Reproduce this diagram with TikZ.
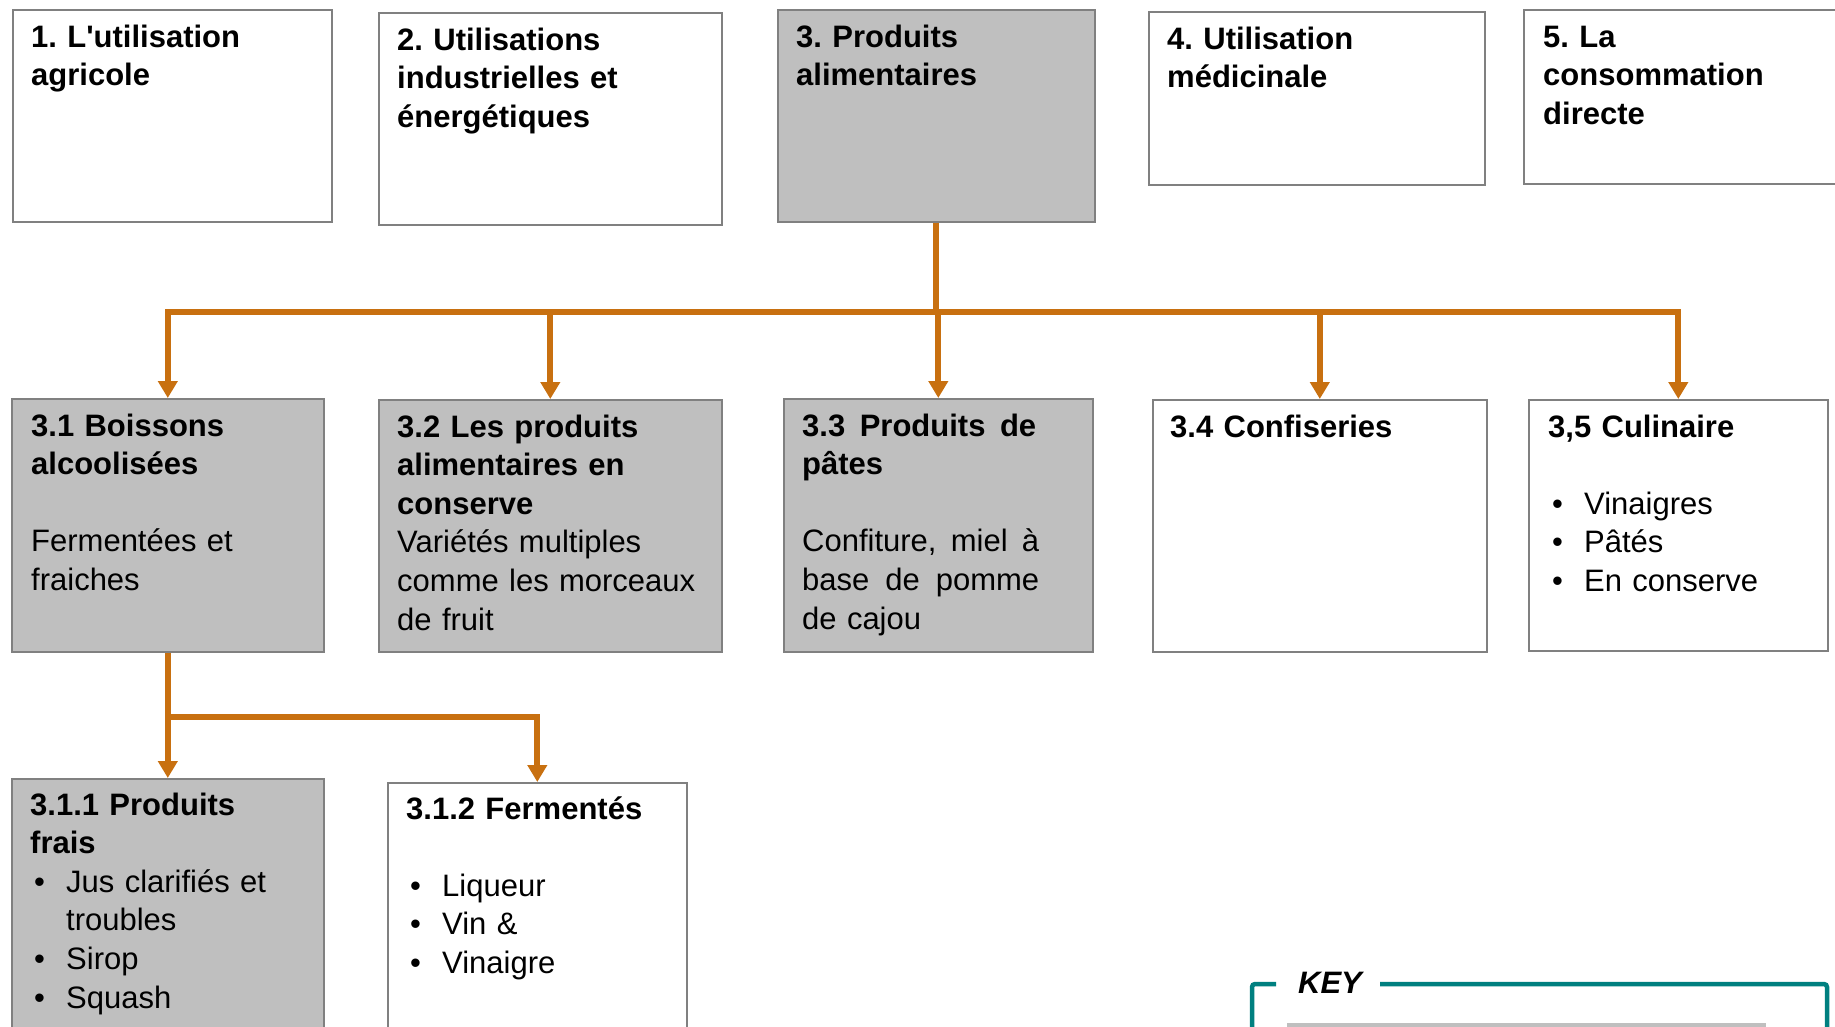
\documentclass[tikz,border=0pt]{standalone}
\usepackage{fontspec}
\setmainfont{Liberation Sans}
\usetikzlibrary{arrows.meta}
\definecolor{boxgrey}{RGB}{191,191,191}
\definecolor{edgegrey}{RGB}{128,128,128}
\definecolor{arrorange}{RGB}{200,112,16}
\definecolor{keyteal}{RGB}{0,128,128}
\newcommand{\bul}{\makebox[36pt][l]{\hspace{4pt}•}}
\newcommand{\jline}[2]{\makebox[#1][l]{#2}}
\frenchspacing
\begin{document}
\begin{tikzpicture}[x=1pt,y=-1pt,
  box/.style={draw=edgegrey, line width=1.6pt, rectangle, inner sep=0pt, anchor=north west},
  gbox/.style={box, fill=boxgrey},
  wbox/.style={box, fill=white},
  txt/.style={anchor=base west, inner sep=0pt, text width=330pt, align=left,
              font=\fontsize{31}{38.6}\selectfont\frenchspacing},
  conn/.style={draw=arrorange, line width=6pt},
  arr/.style={conn, -{Triangle[width=19pt,length=17pt]}},
  keyframe/.style={draw=keyteal, line width=4.5pt, rounded corners=3pt},
]
\useasboundingbox (0,0) rectangle (1835,1026);
\clip (0,0) rectangle (1835,1026);

% top row
\node[wbox, minimum width=319pt, minimum height=212pt] (b1) at (12,9) {};
\node[wbox, minimum width=343pt, minimum height=212pt] (b2) at (378,12) {};
\node[gbox, minimum width=317pt, minimum height=212pt] (b3) at (777,9) {};
\node[wbox, minimum width=336pt, minimum height=173pt] (b4) at (1148,11) {};
\node[wbox, minimum width=340pt, minimum height=174pt] (b5) at (1523,9) {};

% second row
\node[gbox, minimum width=312pt, minimum height=253pt] (b31) at (11,398) {};
\node[gbox, minimum width=343pt, minimum height=252pt] (b32) at (378,399) {};
\node[gbox, minimum width=309pt, minimum height=253pt] (b33) at (783,398) {};
\node[wbox, minimum width=334pt, minimum height=252pt] (b34) at (1152,399) {};
\node[wbox, minimum width=299pt, minimum height=251pt] (b35) at (1528,399) {};

% third row
\node[gbox, minimum width=312pt, minimum height=300pt] (b311) at (11,778) {};
\node[wbox, minimum width=299pt, minimum height=300pt] (b312) at (387,782) {};

% texts
\node[txt] (t1) at ([shift={(19,38)}]b1.north west)
  {\textbf{1. L\textquotesingle utilisation}\\\textbf{agricole}};
\node[txt] (t2) at ([shift={(19,38)}]b2.north west)
  {\textbf{2. Utilisations}\\\textbf{industrielles et}\\\textbf{énergétiques}};
\node[txt] (t3) at ([shift={(19,38)}]b3.north west)
  {\textbf{3. Produits}\\\textbf{alimentaires}};
\node[txt] (t4) at ([shift={(19,38)}]b4.north west)
  {\textbf{4. Utilisation}\\\textbf{médicinale}};
\node[txt] (t5) at ([shift={(20,38)}]b5.north west)
  {\textbf{5. La}\\\textbf{consommation}\\\textbf{directe}};

\node[txt] (t31) at ([shift={(20,38)}]b31.north west)
  {\textbf{3.1 Boissons}\\\textbf{alcoolisées}\\[38.6pt]Fermentées et\\fraiches};
\node[txt] (t32) at ([shift={(19,38)}]b32.north west)
  {\textbf{3.2 Les produits}\\\textbf{alimentaires en}\\\textbf{conserve}\\Variétés multiples\\comme les morceaux\\de fruit};
\node[txt] (t33) at ([shift={(19,38)}]b33.north west)
  {\jline{234pt}{\textbf{3.3}\hfill\textbf{Produits}\hfill\textbf{de}}\\\textbf{pâtes}\\[38.6pt]\jline{237pt}{Confiture,\hfill miel\hfill à}\\\jline{237pt}{base\hfill de\hfill pomme}\\de cajou};
\node[txt] (t34) at ([shift={(18,38)}]b34.north west)
  {\textbf{3.4 Confiseries}};
\node[txt] (t35) at ([shift={(20,38)}]b35.north west)
  {\textbf{3,5 Culinaire}\\[38.6pt]\bul Vinaigres\\\bul Pâtés\\\bul En conserve};

\node[txt] (t311) at ([shift={(19,37)}]b311.north west)
  {\textbf{3.1.1 Produits}\\\textbf{frais}\\\bul Jus clarifiés et\\\hspace*{36pt}troubles\\\bul Sirop\\\bul Squash};
\node[txt] (t312) at ([shift={(19,37)}]b312.north west)
  {\textbf{3.1.2 Fermentés}\\[38.6pt]\bul Liqueur\\\bul Vin \&\\\bul Vinaigre};

% connectors
\draw[conn] (b3.south) -- ++(0,89) coordinate (hub);
\foreach \t in {b31,b32,b33,b34,b35} \draw[arr] (hub) -| (\t.north);
\draw[conn] (b31.south) -- ++(0,64) coordinate (hub2);
\draw[arr] (hub2) -| (b311.north);
\draw[arr] (hub2) -| (b312.north);

% key
\node[font=\bfseries\itshape\fontsize{31}{36}\selectfont, inner sep=0pt] (key) at (1330,983) {KEY};
\draw[keyframe] (1276,984) -- (1252,984) -- (1252,1045);
\draw[keyframe] (1380,984) -- (1827,984) -- (1827,1045);
\node[box, draw=boxgrey, fill=boxgrey, minimum width=477pt, minimum height=30pt] (keyg) at (1287,1023) {};
\end{tikzpicture}
\end{document}
